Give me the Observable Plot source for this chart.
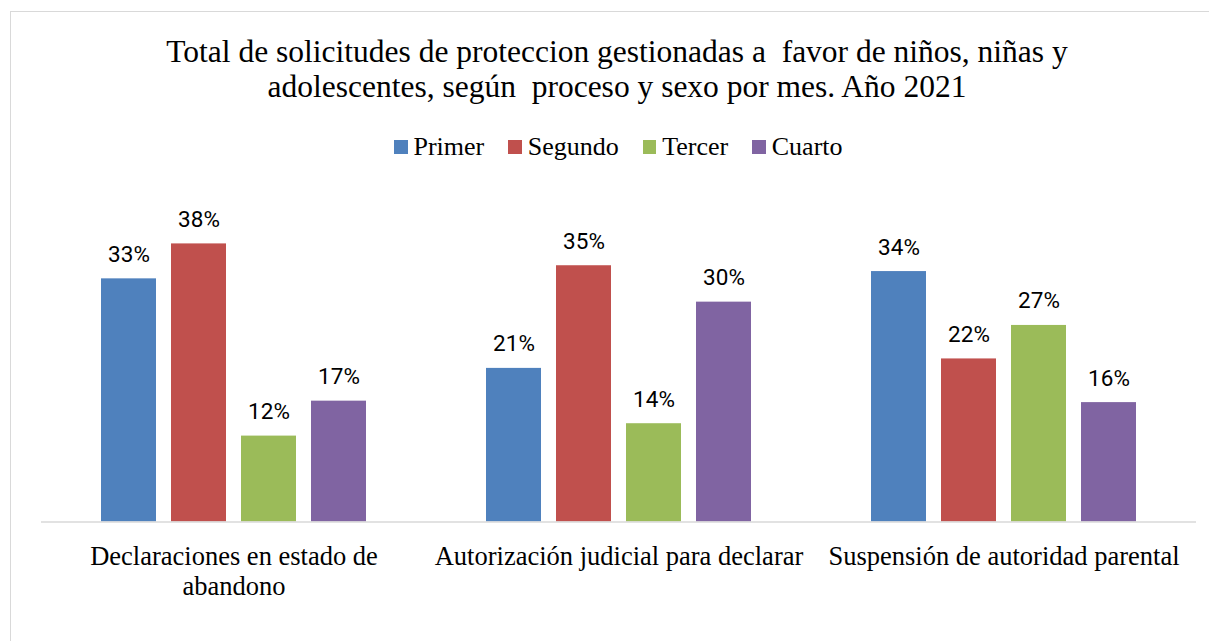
<!DOCTYPE html>
<html>
<head>
<meta charset="utf-8">
<script src="https://cdn.jsdelivr.net/npm/d3@7"></script>
<script src="https://cdn.jsdelivr.net/npm/@observablehq/plot@0.6"></script>
<style>
  html, body { margin: 0; padding: 0; background: #fff; overflow: hidden; width: 1209px; height: 641px; }
  #frame { position: absolute; left: 10px; top: 11px; width: 1199px; height: 630px; box-sizing: border-box;
           border-left: 1.5px solid #d9d9d9; border-top: 1.5px solid #d9d9d9; z-index: 2; pointer-events: none; }
  .serif { font-family: "Liberation Serif", "Times New Roman", serif; color: #000; }
  #title { position: absolute; left: 17px; top: 34px; width: 1200px; text-align: center; font-size: 31.5px; line-height: 35px; white-space: pre; }
  #legend { position: absolute; left: 394px; top: 132px; height: 30px; display: flex; align-items: center; font-size: 26px; line-height: 30px; white-space: pre; }
  #legend .item { display: flex; align-items: center; margin-right: 24px; }
  #legend .sw { width: 13.5px; height: 13.5px; margin-right: 6px; }
  #chart { position: absolute; left: 0; top: 170px; }
</style>
</head>
<body>
<div id="frame"></div>
<div id="title" class="serif"></div>
<div id="legend" class="serif"></div>
<div id="chart"></div>
<script>
const titleLines = [
  "Total de solicitudes de proteccion gestionadas a  favor de niños, niñas y",
  "adolescentes, según  proceso y sexo por mes. Año 2021"
];
const categories = [
  "Declaraciones en estado de abandono",
  "Autorización judicial para declarar",
  "Suspensión de autoridad parental"
];
const categoryLabels = [
  "Declaraciones en estado de\nabandono",
  "Autorización judicial para declarar",
  "Suspensión de autoridad parental"
];
const series = ["Primer", "Segundo", "Tercer", "Cuarto"];
const primer  = [33.4, 21.1, 34.4];
const segundo = [38.2, 35.2, 22.4];
const tercer  = [11.8, 13.5, 27.0];
const cuarto  = [16.6, 30.2, 16.4];
const colors = ["#4F81BD", "#C0504D", "#9BBB59", "#8064A2"];

const valuesBySeries = [primer, segundo, tercer, cuarto];
const rows = [];
categories.forEach((c, i) => {
  series.forEach((s, j) => rows.push({category: c, series: s, value: valuesBySeries[j][i]}));
});
const labelRows = categories.map((c, i) => ({category: c, label: categoryLabels[i]}));

document.getElementById("title").innerHTML = titleLines.map(t => `<div>${t}</div>`).join("");
document.getElementById("legend").innerHTML = series.map((s, i) =>
  `<div class="item"><div class="sw" style="background:${colors[i]}"></div><span>${s}</span></div>`).join("");

const chart = Plot.plot({
  width: 1209,
  height: 471,
  marginLeft: 40,
  marginRight: 13,
  marginTop: 60.3,
  marginBottom: 119.5,
  style: {background: "transparent", overflow: "visible"},
  fx: {domain: categories, padding: 0, axis: null},
  x: {domain: series, paddingInner: 0.2143, paddingOuter: 0.857, axis: null},
  y: {domain: [0, 40], axis: null},
  color: {domain: series, range: colors},
  marks: [
    Plot.barY(rows, {fx: "category", x: "series", y: "value", fill: "series"}),
    Plot.ruleY([0], {stroke: "#d9d9d9", strokeWidth: 1.5}),
    Plot.text(rows, {
      fx: "category", x: "series", y: "value",
      text: d => Math.round(d.value) + "%",
      lineAnchor: "bottom", dy: -17,
      fontFamily: "Roboto", fontSize: 22.5, fill: "#000"
    }),
    Plot.text(labelRows, {
      fx: "category", text: "label",
      frameAnchor: "bottom", lineAnchor: "top", dy: 22,
      fontFamily: "Liberation Serif", fontSize: 26.5, lineHeight: 30 / 26.5, fill: "#000"
    })
  ]
});
document.getElementById("chart").appendChild(chart);
</script>
</body>
</html>
